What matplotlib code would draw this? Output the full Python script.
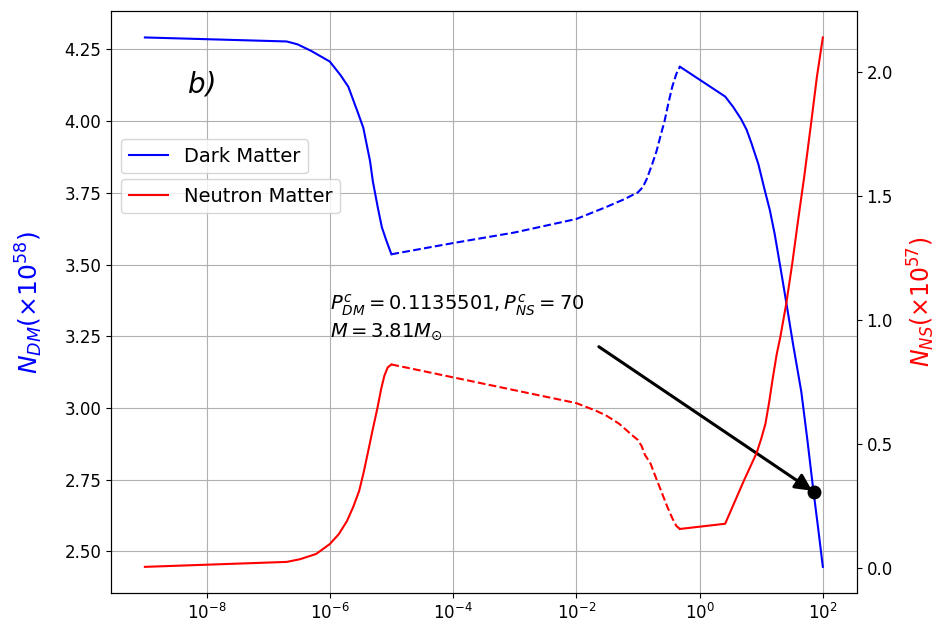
"""Particle number profiles of the dark matter and neutron matter components."""

import matplotlib

matplotlib.use("Agg")
import matplotlib.pyplot as plt

# dark matter particle number (x 10^58), split into solid / dashed / solid parts
dm_x_inner = [1e-9, 2e-7, 3e-7, 5e-7, 1e-6, 1.5e-6, 2e-6, 2.8e-6, 3.5e-6, 4.5e-6,
              5e-6, 6e-6, 7e-6, 8.3e-6, 1e-5]
dm_y_inner = [4.292, 4.278, 4.268, 4.245, 4.208, 4.16, 4.12, 4.035, 3.977, 3.861,
              3.79, 3.70, 3.63, 3.583, 3.536]

dm_x_mid = [1e-5, 1e-4, 1e-3, 1e-2, 3e-2, 6e-2, 1e-1, 1.2e-1, 1.4e-1, 1.7e-1, 2e-1,
            2.3e-1, 2.7e-1, 3.1e-1, 3.6e-1, 4.2e-1, 4.8e-1]
dm_y_mid = [3.536, 3.575, 3.612, 3.659, 3.70, 3.728, 3.752, 3.77, 3.80, 3.85, 3.895,
            3.945, 4.0, 4.06, 4.12, 4.165, 4.19]

dm_x_outer = [4.8e-1, 2.6, 3.5, 4.7, 5.8, 6.9, 9, 11.3, 13.8, 16.5, 20.5, 25.5, 33,
              44.7, 56, 69.4, 84, 100]
dm_y_outer = [4.19, 4.086, 4.05, 4.008, 3.97, 3.925, 3.85, 3.763, 3.69, 3.608, 3.49,
              3.368, 3.22, 3.057, 2.89, 2.721, 2.58, 2.446]

# neutron matter particle number (x 10^57)
ns_x_inner = [1e-9, 2e-7, 3.3e-7, 6e-7, 1e-6, 1.4e-6, 1.9e-6, 2.4e-6, 3e-6, 3.55e-6,
              4.2e-6, 5e-6, 6e-6, 6.8e-6, 7.7e-6, 8.7e-6, 1e-5]
ns_y_inner = [0.003, 0.023, 0.034, 0.055, 0.095, 0.135, 0.188, 0.245, 0.31, 0.385,
              0.47, 0.56, 0.65, 0.72, 0.775, 0.808, 0.82]

ns_x_mid = [1e-5, 1e-4, 1e-3, 1e-2, 2e-2, 3e-2, 5e-2, 8e-2, 1e-1, 1.15e-1, 1.3e-1,
            1.6e-1, 2e-1, 2.4e-1, 3e-1, 3.6e-1, 4.2e-1, 4.8e-1]
ns_y_mid = [0.82, 0.768, 0.716, 0.664, 0.635, 0.615, 0.58, 0.535, 0.515, 0.49, 0.455,
            0.42, 0.357, 0.307, 0.245, 0.20, 0.168, 0.156]

ns_x_outer = [4.8e-1, 2.6, 5.3, 8.4, 10, 11.7, 13.5, 15.3, 17.8, 20.4, 25.5, 32,
              39.5, 50, 65, 80, 100]
ns_y_outer = [0.156, 0.177, 0.354, 0.462, 0.52, 0.58, 0.67, 0.76, 0.86, 0.93, 1.066,
              1.23, 1.399, 1.58, 1.80, 1.98, 2.14]

# configuration marked on the plot
MARK_X, MARK_Y = 73, 2.706
ARROW_FROM = (0.0213, 3.219)
LABEL = "$P^c_{DM}=0.1135501, P^c_{NS}=70$\n$M=3.81M_{\\odot}$"

fig, ax1 = plt.subplots(figsize=(9.35, 6.31), dpi=100)
fig.subplots_adjust(left=0.1187, right=0.9163, bottom=0.0597, top=0.9826)
ax2 = ax1.twinx()

ax1.plot(dm_x_inner, dm_y_inner, color="b", label="Dark Matter")
ax1.plot(dm_x_mid, dm_y_mid, color="b", ls="--")
ax1.plot(dm_x_outer, dm_y_outer, color="b")

ax2.plot(ns_x_inner, ns_y_inner, color="r", label="Neutron Matter")
ax2.plot(ns_x_mid, ns_y_mid, color="r", ls="--")
ax2.plot(ns_x_outer, ns_y_outer, color="r")

ax1.set_xscale("log")
ax1.grid(True)

ax1.set_ylabel(r"$N_{DM}(\times 10^{58})$", color="b", fontsize=18, labelpad=14)
ax2.set_ylabel(r"$N_{NS}(\times 10^{57})$", color="r", fontsize=17, labelpad=9)
ax1.tick_params(labelsize=12)
ax2.tick_params(labelsize=12)

ax1.text(5e-9, 4.1, "b)", fontsize=20, style="italic")
ax1.text(1e-6, 3.25, LABEL, fontsize=14)

ax1.plot(MARK_X, MARK_Y, "ko", ms=9)
ax1.annotate(
    "",
    xy=(MARK_X, MARK_Y),
    xytext=ARROW_FROM,
    arrowprops=dict(arrowstyle="-|>", color="k", lw=2.2, mutation_scale=25),
)

ax1.legend(loc="lower left", bbox_to_anchor=(0.014, 0.721), borderaxespad=0, fontsize=14)
ax2.legend(loc="lower left", bbox_to_anchor=(0.014, 0.6526), borderaxespad=0, fontsize=14)

fig.savefig("out.png", dpi=100)
